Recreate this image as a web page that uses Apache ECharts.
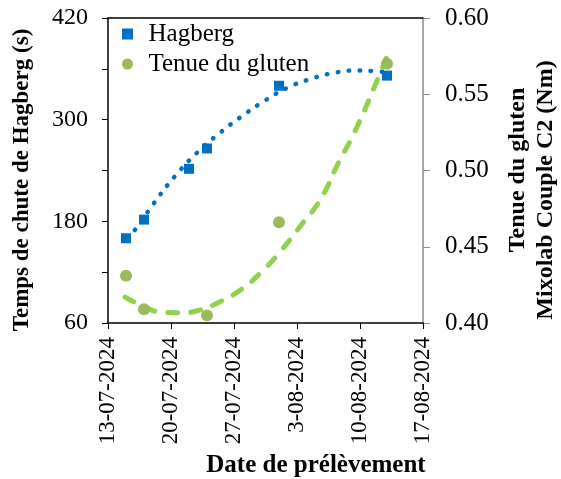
<!DOCTYPE html>
<html><head><meta charset="utf-8">
<script src="https://cdn.jsdelivr.net/npm/echarts@6/dist/echarts.min.js"></script>
<style>html,body{margin:0;padding:0;background:#fff}#c{width:561px;height:479px}</style>
</head><body><div id="c"></div>
<script>
// ---- data ----
const startDate = '2024-07-13';
const tickLabels = ['13-07-2024','20-07-2024','27-07-2024','3-08-2024','10-08-2024','17-08-2024'];
const sampleDates = ['2024-07-15','2024-07-17','2024-07-22','2024-07-24','2024-08-01','2024-08-13'];
const hagberg = [160, 182, 242, 266, 340, 352];
const gluten = [0.431, 0.409, null, 0.405, 0.466, 0.570];
// trend curves (x = days since startDate)
const hagbergTrendDays = [2, 3, 5, 7.5, 10, 12.5, 15, 17.5, 20, 22.5, 25, 27.5, 30, 31];
const hagbergTrendVals = [162, 170, 200, 234, 262, 285, 305, 323, 338, 348, 355, 358, 357, 356];
const glutenTrendDays = [1.9, 4.1, 6.1, 8.4, 10.2, 12.1, 14.7, 17.3, 19.3, 21.3, 23.6, 25.6, 27.3, 29.9, 31.2];
const glutenTrendVals = [0.417, 0.4105, 0.407, 0.4068, 0.4085, 0.413, 0.4216, 0.435, 0.448, 0.463, 0.481, 0.505, 0.524, 0.559, 0.578];

const DAY = 86400000;
const dayOf = s => (Date.parse(s) - Date.parse(startDate)) / DAY;
const FONT = 'Liberation Serif';

const hagData = sampleDates.map((d, i) => [dayOf(d), hagberg[i]]).filter(p => p[1] != null);
const glutData = sampleDates.map((d, i) => [dayOf(d), gluten[i]]).filter(p => p[1] != null);
const hagTrend = hagbergTrendDays.map((d, i) => [d, hagbergTrendVals[i]]);
const glutTrend = glutenTrendDays.map((d, i) => [d, glutenTrendVals[i]]);
const xMax = (tickLabels.length - 1) * 7;

const chart = echarts.init(document.getElementById('c'));
chart.setOption({
  animation: false,
  grid: {left: 108, right: 138, top: 18, bottom: 156},
  legend: {
    left: 117, top: 15, orient: 'vertical', itemGap: 2,
    itemWidth: 32, itemHeight: 11, symbolKeepAspect: true,
    textStyle: {fontFamily: FONT, fontSize: 25, color: '#000', lineHeight: 28},
    data: [{name: 'Hagberg', icon: 'path://M0,0L10,0L10,10L0,10Z'}, {name: 'Tenue du gluten'}]
  },
  xAxis: [{
    type: 'value', min: 0, max: xMax, interval: 7, position: 'bottom',
    axisLine: {show: true, onZero: false, lineStyle: {color: '#000', width: 1.5}},
    axisTick: {show: true, length: 6, lineStyle: {color: '#000'}},
    axisLabel: {fontSize: 23, color: '#000', fontFamily: FONT, rotate: 90, margin: 14,
      formatter: v => tickLabels[Math.round(v / 7)]},
    splitLine: {show: false}
  }, {
    type: 'value', min: 0, max: xMax, interval: 7, position: 'top',
    axisLine: {show: true, onZero: false, lineStyle: {color: '#000', width: 1.5}},
    axisTick: {show: false}, axisLabel: {show: false}, splitLine: {show: false}
  }],
  yAxis: [{
    type: 'value', min: 60, max: 420, interval: 120, position: 'left',
    axisLine: {show: true, onZero: false, lineStyle: {color: '#000', width: 1.5}},
    axisTick: {show: true, length: 6, lineStyle: {color: '#000'}},
    minorTick: {show: true, splitNumber: 2, length: 6, lineStyle: {color: '#000'}},
    axisLabel: {fontSize: 24, color: '#000', fontFamily: FONT, margin: 20},
    splitLine: {show: false}, minorSplitLine: {show: false}
  }, {
    type: 'value', min: 0.40, max: 0.60, interval: 0.05, position: 'right',
    axisLine: {show: true, onZero: false, lineStyle: {color: '#8c8c8c', width: 1.5}},
    axisTick: {show: true, length: 7, lineStyle: {color: '#8c8c8c'}},
    axisLabel: {fontSize: 25, color: '#000', fontFamily: FONT, margin: 22,
      formatter: v => v.toFixed(2)},
    splitLine: {show: false}
  }],
  series: [{
    name: 'Hagberg trend', type: 'line', data: hagTrend, smooth: true, showSymbol: false,
    yAxisIndex: 0, z: 2,
    lineStyle: {color: '#0070C0', width: 4.5, type: [0.5, 10.5], cap: 'round', opacity: 1}
  }, {
    name: 'Gluten trend', type: 'line', data: glutTrend, smooth: true, showSymbol: false,
    yAxisIndex: 1, z: 2,
    lineStyle: {color: '#92D050', width: 5, type: [10, 13], cap: 'round', opacity: 1}
  }, {
    name: 'Hagberg', type: 'scatter', data: hagData, symbol: 'rect', symbolSize: 10,
    yAxisIndex: 0, z: 3,
    itemStyle: {color: '#0070C0', opacity: 1}
  }, {
    name: 'Tenue du gluten', type: 'scatter', data: glutData, symbol: 'circle', symbolSize: 12,
    yAxisIndex: 1, z: 3,
    itemStyle: {color: '#9BBB59', opacity: 1}
  }],
  graphic: [{
    type: 'text', x: 22, y: 180, rotation: Math.PI / 2,
    style: {text: 'Temps de chute de Hagberg (s)', font: 'bold 23px "Liberation Serif"', fill: '#000',
      textAlign: 'center', textVerticalAlign: 'middle'}
  }, {
    type: 'text', x: 518, y: 170, rotation: Math.PI / 2,
    style: {text: 'Tenue du gluten', font: 'bold 24px "Liberation Serif"', fill: '#000',
      textAlign: 'center', textVerticalAlign: 'middle'}
  }, {
    type: 'text', x: 546, y: 190, rotation: Math.PI / 2,
    style: {text: 'Mixolab Couple C2 (Nm)', font: 'bold 24px "Liberation Serif"', fill: '#000',
      textAlign: 'center', textVerticalAlign: 'middle'}
  }, {
    type: 'text', x: 316, y: 466,
    style: {text: 'Date de prélèvement', font: 'bold 25px "Liberation Serif"', fill: '#000',
      textAlign: 'center', textVerticalAlign: 'middle'}
  }]
});
</script></body></html>
